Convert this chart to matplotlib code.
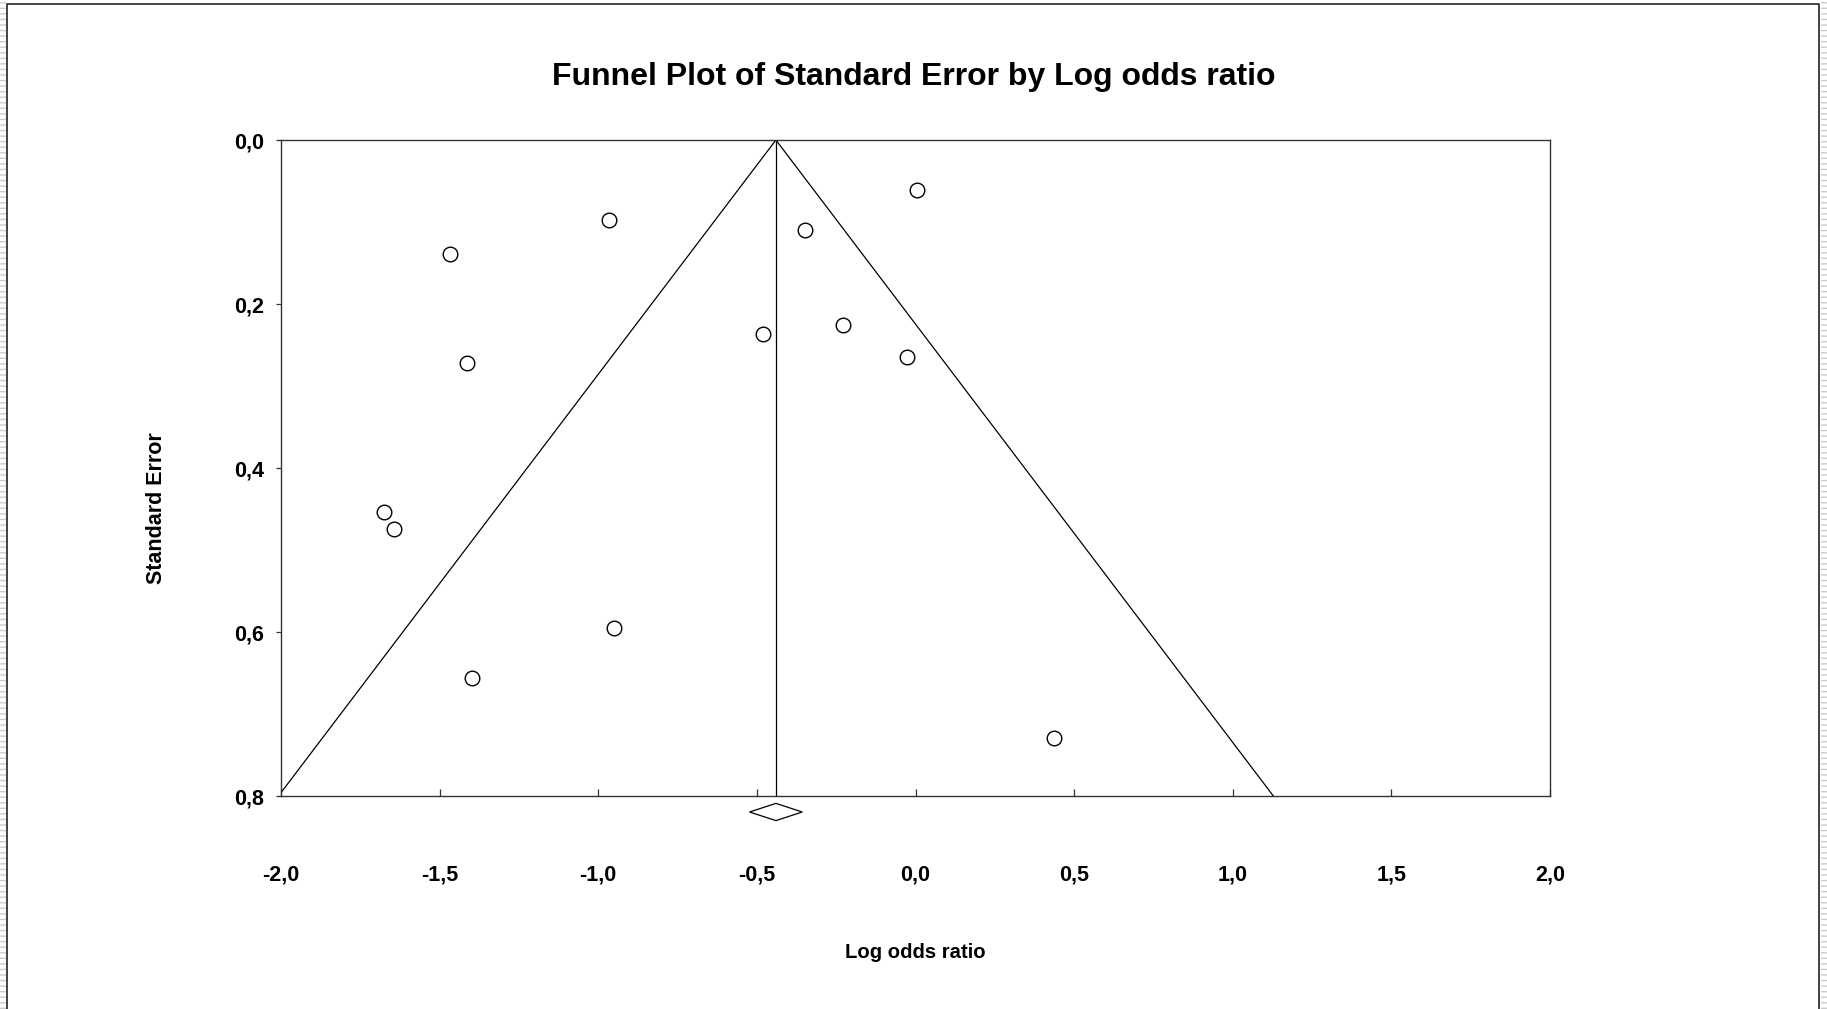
import matplotlib
matplotlib.use('Agg')
import matplotlib.pyplot as plt
from matplotlib.patches import Rectangle

plt.rcParams['font.family'] = ['Liberation Sans', 'DejaVu Sans']
plt.rcParams['font.weight'] = 'bold'

# study estimates
log_odds = [0.004, -0.967, -1.467, -0.349, -0.482, -0.228, -0.026,
            -1.415, -1.676, -1.643, -0.949, -1.397, 0.438]
std_err = [0.061, 0.097, 0.139, 0.110, 0.236, 0.225, 0.265,
           0.272, 0.454, 0.474, 0.595, 0.656, 0.729]

pooled = -0.44          # combined log odds ratio
pooled_ci = 0.083       # half width of the diamond
se_max = 0.8

x_ticks = [-2.0, -1.5, -1.0, -0.5, 0.0, 0.5, 1.0, 1.5, 2.0]
y_ticks = [0.0, 0.2, 0.4, 0.6, 0.8]

fig = plt.figure(figsize=(18.27, 10.09), dpi=100)
ax = fig.add_axes([281 / 1827, 1 - 796 / 1009, 1269 / 1827, 656 / 1009])

# funnel and pooled estimate line
ax.plot([pooled - 1.96 * se_max, pooled, pooled + 1.96 * se_max],
        [se_max, 0, se_max], color='black', lw=0.9)
ax.plot([pooled, pooled], [0, se_max], color='black', lw=0.9)

ax.plot(log_odds, std_err, 'o', mfc='white', mec='black', ms=10.5, mew=1.0,
        linestyle='none', zorder=3)

# diamond for the combined effect, just under the axis
dy = 0.0105
yc = se_max + 0.0195
ax.fill([pooled - pooled_ci, pooled, pooled + pooled_ci, pooled],
        [yc, yc - dy, yc, yc + dy], facecolor='white', edgecolor='black',
        lw=0.9, clip_on=False, zorder=4)

ax.set_xlim(-2.0, 2.0)
ax.set_ylim(se_max, 0.0)
ax.set_xticks(x_ticks)
ax.set_yticks(y_ticks)
ax.set_xticklabels([f'{v:.1f}'.replace('.', ',') for v in x_ticks])
ax.set_yticklabels([f'{v:.1f}'.replace('.', ',') for v in y_ticks])
ax.tick_params(axis='x', direction='in', length=5, width=0.9, pad=49,
               labelsize=15.5, color='#333333')
ax.tick_params(axis='y', direction='out', length=3.5, width=0.9, pad=9,
               labelsize=15.5, color='#333333')
for s in ax.spines.values():
    s.set_linewidth(1.0)
    s.set_color('#333333')

fig.text(914 / 1827, 1 - 85 / 1009, 'Funnel Plot of Standard Error by Log odds ratio',
         ha='center', va='baseline', fontsize=23, fontweight='bold')
fig.text(915 / 1827, 1 - 952 / 1009, 'Log odds ratio', ha='center', va='center',
         fontsize=14.6, fontweight='bold')
fig.text(156 / 1827, 1 - 508 / 1009, 'Standard Error', ha='center', va='center',
         rotation=90, fontsize=15.5, fontweight='bold')

# page frame
fig.add_artist(plt.Line2D([7 / 1827, 7 / 1827, 1819 / 1827, 1819 / 1827],
                          [0, 1 - 4 / 1009, 1 - 4 / 1009, 0],
                          transform=fig.transFigure, color='#222222', lw=1.2))
for x0 in (0, 1821 / 1827):
    fig.add_artist(Rectangle((x0, 0), 6 / 1827, 1, transform=fig.transFigure,
                             facecolor='white', edgecolor='#cccccc', hatch='---',
                             lw=0))

fig.savefig('out.png', dpi=100)
